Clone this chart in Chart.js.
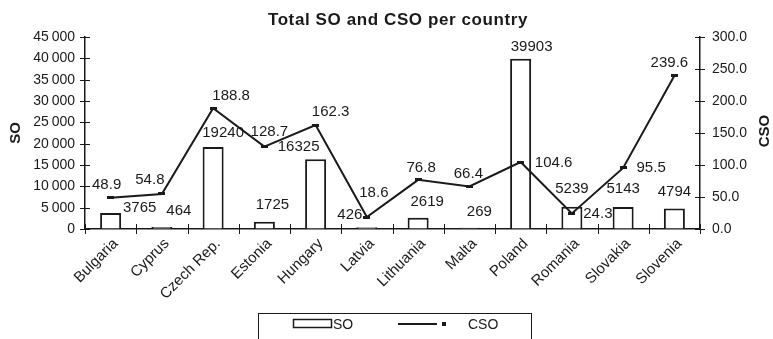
<!DOCTYPE html>
<html>
<head>
<meta charset="utf-8">
<script src="https://cdn.jsdelivr.net/npm/chart.js@4.4.1/dist/chart.umd.min.js"></script>
<style>
html,body{margin:0;padding:0;background:#fff;}
#wrap{width:773px;height:339px;position:relative;}
</style>
</head>
<body>
<div id="wrap"><canvas id="c" width="773" height="339"></canvas></div>
<script>
// ---- data ----
const countries = ["Bulgaria","Cyprus","Czech Rep.","Estonia","Hungary","Latvia","Lithuania","Malta","Poland","Romania","Slovakia","Slovenia"];
const soValues  = [3765, 464, 19240, 1725, 16325, 426, 2619, 269, 39903, 5239, 5143, 4794];
const csoValues = [48.9, 54.8, 188.8, 128.7, 162.3, 18.6, 76.8, 66.4, 104.6, 24.3, 95.5, 239.6];
const soTicks   = [0, 5000, 10000, 15000, 20000, 25000, 30000, 35000, 40000, 45000];
const csoTicks  = [0, 50, 100, 150, 200, 250, 300];
const chartTitle = "Total SO and CSO per country";

// ---- label placement (pixel offsets, style only) ----
const soLabelOffset  = [[29,-5],[17,-16],[10,-14],[8,-17],[-17,-12],[-17,-12],[9,-16],[10,-16],[11,-12],[0,-18],[0,-18],[0,-17]];
const csoLabelOffset = [[-4,-13],[-12,-14],[18,-12],[5,-15],[15,-13],[7,-24],[3,-12],[-1,-13],[33,1],[26,0],[28,0],[-5,-13]];

const FONT = "'Liberation Sans', Arial, sans-serif";
const INK = "#1a1a1a";

// marker: short horizontal dash
const marker = document.createElement('canvas');
marker.width = 7; marker.height = 3;
(function(){const m=marker.getContext('2d');m.fillStyle=INK;m.fillRect(0,0,7,3);})();

function fmtSO(v){ const s = String(v); return s.length>3 ? s.slice(0,s.length-3)+"\u2009"+s.slice(-3) : s; }

const drawPlugin = {
  id: 'extras',
  afterDatasetsDraw(chart){
    const ctx = chart.ctx;
    const x = chart.scales.x, yl = chart.scales.y, yr = chart.scales.y1;
    const ca = chart.chartArea;
    ctx.save();
    ctx.strokeStyle = INK; ctx.lineWidth = 1;
    // tick marks crossing axes
    soTicks.forEach(v=>{ const py = Math.round(yl.getPixelForValue(v))+0.5; ctx.beginPath(); ctx.moveTo(ca.left-5,py); ctx.lineTo(ca.left+5,py); ctx.stroke(); });
    csoTicks.forEach(v=>{ const py = Math.round(yr.getPixelForValue(v))+0.5; ctx.beginPath(); ctx.moveTo(ca.right-5,py); ctx.lineTo(ca.right+5,py); ctx.stroke(); });
    const n = countries.length, w = (ca.right-ca.left)/n;
    for(let i=0;i<=n;i++){ const px = Math.round(ca.left+i*w)+0.5; ctx.beginPath(); ctx.moveTo(px,ca.bottom-5); ctx.lineTo(px,ca.bottom+5); ctx.stroke(); }

    // data labels
    ctx.fillStyle = INK;
    ctx.font = "15px "+FONT;
    ctx.textAlign = 'center'; ctx.textBaseline = 'middle';
    soValues.forEach((v,i)=>{
      const px = x.getPixelForValue(i), py = yl.getPixelForValue(v);
      ctx.fillText(String(v), px+soLabelOffset[i][0], py+soLabelOffset[i][1]);
    });
    csoValues.forEach((v,i)=>{
      const px = x.getPixelForValue(i), py = yr.getPixelForValue(v);
      ctx.fillText(v.toFixed(1), px+csoLabelOffset[i][0], py+csoLabelOffset[i][1]);
    });

    // title
    ctx.font = "bold 17px "+FONT;
    ctx.letterSpacing = "0.6px";
    ctx.fillText(chartTitle, 398, 20);
    ctx.letterSpacing = "0px";

    // axis titles (both reading upward)
    ctx.font = "bold 15px "+FONT;
    ctx.save(); ctx.translate(16,133); ctx.rotate(-Math.PI/2); ctx.fillText("SO",0,0); ctx.restore();
    ctx.save(); ctx.translate(765,131); ctx.rotate(-Math.PI/2); ctx.fillText("CSO",0,0); ctx.restore();

    // legend
    ctx.lineWidth = 1;
    ctx.strokeRect(258.5, 313.5, 273, 40);
    ctx.fillStyle = '#fff';
    ctx.fillRect(293, 319, 39, 9);
    ctx.lineWidth = 1.5;
    ctx.strokeRect(293.5, 319.5, 38, 8);
    ctx.fillStyle = INK;
    ctx.font = "14px "+FONT;
    ctx.textAlign = 'left';
    ctx.fillText("SO", 333, 325);
    ctx.lineWidth = 2;
    ctx.beginPath(); ctx.moveTo(398, 324); ctx.lineTo(437, 324); ctx.stroke();
    ctx.fillRect(442, 322, 4, 4);
    ctx.fillText("CSO", 468, 325);
    ctx.restore();
  }
};

new Chart(document.getElementById('c'), {
  data: {
    labels: countries,
    datasets: [
      { type:'line', label:'CSO', data: csoValues, yAxisID:'y1', order:0,
        borderColor: INK, borderWidth:2, pointStyle: marker, pointRadius:4, tension:0 },
      { type:'bar', label:'SO', data: soValues, yAxisID:'y', order:1,
        backgroundColor:'#fff', borderColor: INK, borderWidth:2,
        barPercentage:0.41, categoryPercentage:1 }
    ]
  },
  options: {
    responsive:false, animation:false, devicePixelRatio:1,
    layout:{ padding:{ top:37, left:0, right:0, bottom:0 } },
    plugins:{ legend:{display:false}, title:{display:false}, tooltip:{enabled:false} },
    scales:{
      x:{
        grid:{ display:true, drawOnChartArea:false, drawTicks:false },
        border:{ display:true, color:INK, width:1.5 },
        ticks:{ color:INK, font:{ family:FONT, size:15 }, minRotation:45, maxRotation:45, autoSkip:false, padding:6, labelOffset:5 },
        afterFit(s){ s.height = 110; }
      },
      y:{
        position:'left', min:0, max:45000,
        grid:{ display:true, drawOnChartArea:false, drawTicks:false },
        border:{ display:true, color:INK, width:1.5 },
        afterBuildTicks(s){ s.ticks = soTicks.map(v=>({value:v})); },
        ticks:{ color:INK, font:{ family:FONT, size:14 }, padding:10, callback:(v)=>fmtSO(v) },
        afterFit(s){ s.width = 85; }
      },
      y1:{
        position:'right', min:0, max:300,
        grid:{ display:true, drawOnChartArea:false, drawTicks:false },
        border:{ display:true, color:INK, width:1.5 },
        afterBuildTicks(s){ s.ticks = csoTicks.map(v=>({value:v})); },
        ticks:{ color:INK, font:{ family:FONT, size:14 }, padding:12, callback:(v)=>Number(v).toFixed(1) },
        afterFit(s){ s.width = 73; }
      }
    }
  },
  plugins:[drawPlugin]
});
</script>
</body>
</html>
